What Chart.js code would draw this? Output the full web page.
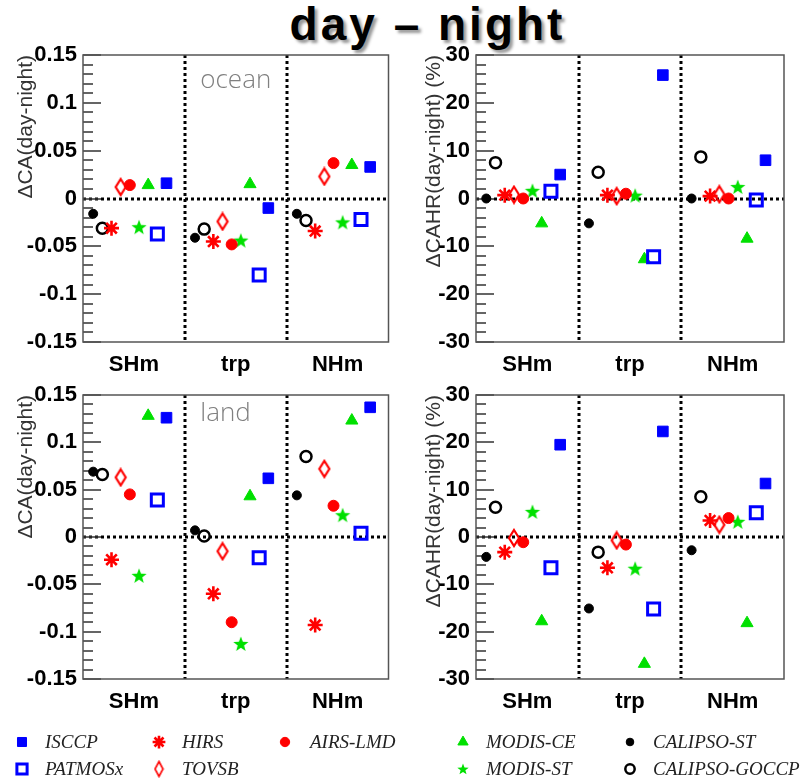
<!DOCTYPE html>
<html>
<head>
<meta charset="utf-8">
<script src="https://cdn.jsdelivr.net/npm/chart.js@4.4.1/dist/chart.umd.min.js"></script>
<style>
  body { margin: 0; background: #fff; width: 804px; height: 780px; position: relative; overflow: hidden; }
  canvas { position: absolute; }
  #title {
    position: absolute; left: 0; top: 0; width: 855px; text-align: center;
    font: bold 46px "Liberation Sans", Arial, sans-serif; letter-spacing: 3px; line-height: 48px; color: #000;
    text-shadow: 3px 3px 3px #999;
  }
  .lg { position: absolute; font: italic 19px "Liberation Serif", serif; color: #222; line-height: 22px; white-space: nowrap; }
</style>
</head>
<body>
<div id="title">day – night</div>
<canvas id="p1" width="400" height="347" style="left:0;top:35px"></canvas>
<canvas id="p2" width="404" height="347" style="left:400px;top:35px"></canvas>
<canvas id="p3" width="400" height="344" style="left:0;top:375px"></canvas>
<canvas id="p4" width="404" height="344" style="left:400px;top:375px"></canvas>
<canvas id="legend" width="804" height="60" style="left:0;top:720px"></canvas>
<div id="legendText"></div>
<script>
// regions along x
const categories = ['SHm', 'trp', 'NHm'];
const seriesNames = ['ISCCP', 'PATMOSx', 'HIRS', 'TOVSB', 'AIRS-LMD', 'MODIS-CE', 'MODIS-ST', 'CALIPSO-ST', 'CALIPSO-GOCCP'];

// one row per series (seriesNames order), values for [SHm, trp, NHm]
const oceanCA = [
  [0.016, -0.010, 0.033],
  [-0.037, -0.080, -0.022],
  [-0.031, -0.045, -0.034],
  [0.012, -0.024, 0.023],
  [0.014, -0.048, 0.037],
  [0.014, 0.015, 0.035],
  [-0.030, -0.044, -0.025],
  [-0.016, -0.041, -0.016],
  [-0.031, -0.032, -0.023]
];
const oceanCAHR = [
  [5.0, 25.8, 8.0],
  [1.5, -12.2, -0.3],
  [0.7, 0.7, 0.5],
  [0.8, 0.5, 0.9],
  [0.0, 1.0, 0.0],
  [-5.2, -12.7, -8.4],
  [1.6, 0.6, 2.4],
  [0.0, -5.2, 0.0],
  [7.5, 5.5, 8.7]
];
const landCA = [
  [0.126, 0.062, 0.137],
  [0.039, -0.022, 0.004],
  [-0.024, -0.060, -0.093],
  [0.063, -0.015, 0.072],
  [0.045, -0.090, 0.033],
  [0.128, 0.043, 0.123],
  [-0.041, -0.113, 0.023],
  [0.069, 0.007, 0.044],
  [0.066, 0.001, 0.085]
];
const landCAHR = [
  [19.5, 22.3, 11.3],
  [-6.5, -15.2, 5.1],
  [-3.2, -6.5, 3.5],
  [-0.2, -0.7, 2.6],
  [-1.1, -1.6, 4.0],
  [-17.8, -26.8, -18.2],
  [5.3, -6.7, 3.2],
  [-4.2, -15.1, -2.8],
  [6.3, -3.2, 8.5]
];

const caTicks = [-0.15, -0.1, -0.05, 0, 0.05, 0.1, 0.15];
const cahrTicks = [-30, -20, -10, 0, 10, 20, 30];

// custom marker images (tall open diamond, filled 5-point star)
function makeDiamond(w, h, color, lw) {
  const c = document.createElement('canvas');
  c.width = w + lw * 2; c.height = h + lw * 2;
  const g = c.getContext('2d');
  const cx = c.width / 2, cy = c.height / 2;
  g.strokeStyle = color; g.lineWidth = lw;
  g.beginPath();
  g.moveTo(cx, cy - h / 2); g.lineTo(cx + w / 2, cy); g.lineTo(cx, cy + h / 2); g.lineTo(cx - w / 2, cy);
  g.closePath(); g.stroke();
  return c;
}
function makeStar(r, color) {
  const c = document.createElement('canvas');
  c.width = c.height = Math.ceil(r * 2 + 2);
  const g = c.getContext('2d');
  const cx = c.width / 2, cy = c.height / 2 + 0.5;
  g.fillStyle = color;
  g.beginPath();
  for (let k = 0; k < 10; k++) {
    const rr = k % 2 ? r * 0.42 : r;
    const a = -Math.PI / 2 + k * Math.PI / 5;
    g.lineTo(cx + rr * Math.cos(a), cy + rr * Math.sin(a));
  }
  g.closePath(); g.fill();
  return c;
}

const BLUE = '#0000ff', RED = '#ff0000', GREEN = '#00e000', BLACK = '#000';
const NONE = 'rgba(0,0,0,0)';
const diamondImg = makeDiamond(10, 16, RED, 2.2);
const starImg = makeStar(8, GREEN);
const diamondLegend = makeDiamond(8, 15, RED, 1.6);
const starLegend = makeStar(6, GREEN);

// marker styles; slot = position inside a region, col/row = legend cell
const styles = {
  'ISCCP':         { slot: 8, pointStyle: 'rect', r: 7.5, fill: BLUE, stroke: BLUE, bw: 1, col: 0, row: 0 },
  'PATMOSx':       { slot: 7, pointStyle: 'rect', r: 8.5, fill: NONE, stroke: BLUE, bw: 3, col: 0, row: 1 },
  'HIRS':          { slot: 2, pointStyle: 'star', r: 7.5, fill: NONE, stroke: RED, bw: 2.6, col: 1, row: 0 },
  'TOVSB':         { slot: 3, pointStyle: diamondImg, legendStyle: diamondLegend, r: 7, fill: NONE, stroke: RED, bw: 0, col: 1, row: 1 },
  'AIRS-LMD':      { slot: 4, pointStyle: 'circle', r: 5.5, fill: RED, stroke: RED, bw: 1, col: 2, row: 0 },
  'MODIS-CE':      { slot: 6, pointStyle: 'triangle', r: 7, fill: GREEN, stroke: GREEN, bw: 1, col: 3, row: 0 },
  'MODIS-ST':      { slot: 5, pointStyle: starImg, legendStyle: starLegend, r: 7, fill: GREEN, stroke: GREEN, bw: 0, col: 3, row: 1 },
  'CALIPSO-ST':    { slot: 0, pointStyle: 'circle', r: 4.5, fill: BLACK, stroke: BLACK, bw: 1, col: 4, row: 0 },
  'CALIPSO-GOCCP': { slot: 1, pointStyle: 'circle', r: 5.5, fill: NONE, stroke: BLACK, bw: 2.5, col: 4, row: 1 }
};
const slotStart = 0.1, slotStep = 0.09;

const panels = [
  { id: 'p1', values: oceanCA, ticks: caTicks, minor: 0.01, title: 'ΔCA(day-night)', yWidth: 83, padRight: 7, titlePad: 14, tag: 'ocean', tagAt: [1.5, 0.115] },
  { id: 'p2', values: oceanCAHR, ticks: cahrTicks, minor: 2, title: 'ΔCAHR(day-night) (%)', yWidth: 76, padRight: 20, titlePad: 22 },
  { id: 'p3', values: landCA, ticks: caTicks, minor: 0.01, title: 'ΔCA(day-night)', yWidth: 83, padRight: 7, titlePad: 14, tag: 'land', tagAt: [1.4, 0.123] },
  { id: 'p4', values: landCAHR, ticks: cahrTicks, minor: 2, title: 'ΔCAHR(day-night) (%)', yWidth: 76, padRight: 20, titlePad: 22 }
];

// dotted dividers, zero line, inward ticks, frame and region tag (one per panel)
function makeDecor(p) {
  return {
    id: 'panelDecor',
    beforeDatasetsDraw(chart) {
      const { ctx, chartArea: a, scales: { x, y } } = chart;
      ctx.save();
      ctx.strokeStyle = '#000';
      ctx.lineWidth = 3;
      ctx.setLineDash([3, 3]);
      ctx.beginPath();
      for (let i = 1; i < categories.length; i++) {
        const px = Math.round(x.getPixelForValue(i));
        ctx.moveTo(px, a.top); ctx.lineTo(px, a.bottom);
      }
      const zy = Math.round(y.getPixelForValue(0));
      ctx.moveTo(a.left, zy); ctx.lineTo(a.right, zy);
      ctx.stroke();
      ctx.restore();

      ctx.save();
      ctx.lineWidth = 1.5;
      ctx.strokeStyle = '#333';
      ctx.beginPath();
      const lo = p.ticks[0], hi = p.ticks[p.ticks.length - 1];
      const n = Math.round((hi - lo) / p.minor);
      for (let k = 0; k <= n; k++) {
        const py = Math.round(y.getPixelForValue(lo + k * p.minor));
        ctx.moveTo(a.left, py);
        ctx.lineTo(a.left + (k % 5 === 0 ? 18 : 10), py);
      }
      ctx.stroke();

      ctx.strokeStyle = '#555';
      ctx.lineWidth = 1.5;
      ctx.strokeRect(a.left, a.top, a.width, a.height);

      if (p.tag) {
        ctx.font = '300 26px "Open Sans", sans-serif';
        ctx.fillStyle = '#808080';
        ctx.textAlign = 'center';
        ctx.fillText(p.tag, x.getPixelForValue(p.tagAt[0]), y.getPixelForValue(p.tagAt[1]));
      }
      ctx.restore();
    }
  };
}

function fmt(v) { return String(Number(v.toFixed(2))); }

function buildPanel(p) {
  const datasets = seriesNames.map((name, s) => {
    const st = styles[name];
    return {
      label: name,
      data: p.values[s].map((v, i) => ({ x: i + slotStart + slotStep * st.slot, y: v })),
      pointStyle: st.pointStyle,
      pointRadius: st.r,
      pointBackgroundColor: st.fill,
      pointBorderColor: st.stroke,
      pointBorderWidth: st.bw,
      showLine: false
    };
  });
  return new Chart(document.getElementById(p.id), {
    type: 'scatter',
    data: { datasets },
    options: {
      responsive: false,
      animation: false,
      events: [],
      layout: { padding: { top: 20, right: p.padRight, bottom: 0, left: 0 } },
      plugins: {
        legend: { display: false },
        tooltip: { enabled: false }
      },
      scales: {
        x: {
          type: 'linear', min: 0, max: categories.length,
          grid: { display: false, drawTicks: false },
          border: { display: false },
          afterBuildTicks: (s) => { s.ticks = categories.map((c, i) => ({ value: i + 0.5 })); },
          afterFit: (s) => { s.height = 40; },
          ticks: {
            padding: 10, color: '#000', maxRotation: 0, autoSkip: false,
            font: { family: '"Liberation Sans", Arial, sans-serif', size: 22, weight: 'bold' },
            callback: (v) => categories[Math.floor(v)]
          }
        },
        y: {
          min: p.ticks[0], max: p.ticks[p.ticks.length - 1],
          grid: { display: false, drawTicks: false },
          border: { display: false },
          afterBuildTicks: (s) => { s.ticks = p.ticks.map((v) => ({ value: v })); },
          afterFit: (s) => { s.width = p.yWidth; },
          ticks: {
            padding: 6, color: '#000',
            font: { family: '"Liberation Sans", Arial, sans-serif', size: 22, weight: 'bold' },
            callback: (v) => fmt(v)
          },
          title: {
            display: true, text: p.title, align: 'end', color: '#333',
            padding: { top: p.titlePad, bottom: 0 },
            font: { family: '"Liberation Sans", Arial, sans-serif', size: 21 }
          }
        }
      }
    },
    plugins: [makeDecor(p)]
  });
}

panels.forEach(buildPanel);

// legend: two rows, five columns
const legendCols = [{ mark: 22, text: 45 }, { mark: 159, text: 182 }, { mark: 285, text: 310 }, { mark: 463, text: 486 }, { mark: 630, text: 653 }];
const legendRows = [22, 49];
(function drawLegend() {
  const ctx = document.getElementById('legend').getContext('2d');
  const holder = document.getElementById('legendText');
  const draw = Chart.helpers && Chart.helpers.drawPoint;
  seriesNames.forEach((name) => {
    const st = styles[name];
    const mx = legendCols[st.col].mark, my = legendRows[st.row];
    ctx.save();
    ctx.fillStyle = st.fill;
    ctx.strokeStyle = st.stroke;
    ctx.lineWidth = st.bw;
    const ps = st.legendStyle || st.pointStyle;
    if (draw) draw(ctx, { pointStyle: ps, radius: st.r * 0.85, borderWidth: st.bw, rotation: 0 }, mx, my);
    ctx.restore();
    const span = document.createElement('div');
    span.className = 'lg';
    span.textContent = name;
    span.style.left = legendCols[st.col].text + 'px';
    span.style.top = (720 + my - 11) + 'px';
    holder.appendChild(span);
  });
})();
</script>
</body>
</html>
